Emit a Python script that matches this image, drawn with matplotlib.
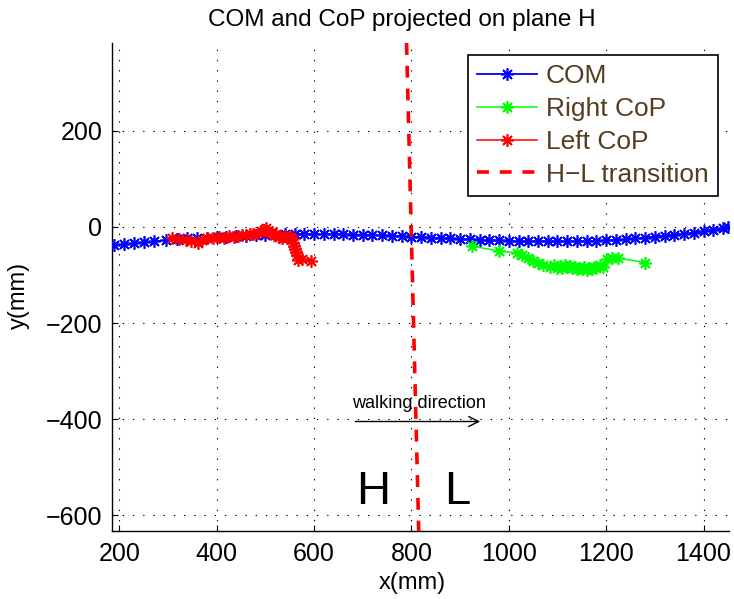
import matplotlib
matplotlib.use("Agg")
import matplotlib.pyplot as plt

plt.rcParams['font.family'] = ['Liberation Sans', 'DejaVu Sans']

com_x = [190, 210, 230, 250, 272, 295, 318, 340, 360, 380, 400, 420, 440, 460, 480, 500, 520, 540, 560, 580,
         600, 620, 640, 660, 680, 700, 720, 740, 760, 780, 800, 820, 840, 860, 880, 900, 920, 940, 960, 980,
         1000, 1020, 1040, 1060, 1080, 1100, 1120, 1140, 1160, 1180, 1200, 1220, 1240, 1260, 1280, 1300,
         1320, 1340, 1360, 1380, 1400, 1420, 1440, 1450]
com_y = [-38, -36, -34, -32, -30, -28, -26, -24, -23, -22, -21, -20, -19, -18, -17, -16, -16, -15, -15, -15,
         -15, -15, -15, -15, -16, -16, -17, -17, -18, -19, -20, -21, -22, -23, -24, -25, -26, -27, -28, -28,
         -29, -30, -30, -30, -30, -30, -30, -30, -30, -29, -28, -27, -26, -24, -22, -20,
         -18, -16, -14, -12, -9, -6, -3, 0]

right_x = [925, 980, 1017, 1028, 1040, 1050, 1060, 1071, 1085, 1092, 1099, 1105, 1110, 1115, 1120, 1125,
           1130, 1135, 1140, 1145, 1150, 1155, 1160, 1165, 1170, 1175, 1180, 1188, 1194, 1202, 1212, 1225, 1280]
right_y = [-40, -50, -54, -58, -65, -70, -74, -79, -83, -80, -86, -82, -85, -80, -84, -82,
           -86, -83, -87, -85, -88, -84, -89, -86, -88, -84, -85, -80, -83, -67, -65, -65, -74]

left_x = [309, 322, 336, 348, 361, 370, 380, 392, 404, 415, 425, 435, 443, 452, 460, 468, 475, 484, 490,
          497, 501, 505, 509, 513, 517, 522, 527, 531, 535, 540, 545, 549, 552, 555, 556, 558, 560, 562,
          564, 566, 575, 593]
left_y = [-23, -25, -27, -29, -33, -27, -24, -22, -20, -22, -19, -20, -18, -17, -16, -15, -14, -12, -9,
          -6, -2, -8, -12, -10, -17, -15, -20, -18, -23, -19, -22, -20, -20, -26, -33, -40, -45, -52,
          -58, -69, -67, -70]

hl_x = [790, 815]
hl_y = [383, -633]

x_ticks = [200, 400, 600, 800, 1000, 1200, 1400]
y_ticks = [-600, -400, -200, 0, 200]

fig = plt.figure(figsize=(7.34, 5.99), dpi=100)
ax = fig.add_axes([0.1526, 0.1135, 0.8404, 0.8147])

star = (8, 2, 0)
ax.plot(com_x, com_y, color='#0000ff', lw=1.3, marker=star, ms=9, mew=1.2, label='COM', zorder=3)
ax.plot(right_x, right_y, color='#00ff00', lw=1.1, marker=star, ms=9, mew=1.2, label='Right CoP', zorder=3)
ax.plot(left_x, left_y, color='#ff0000', lw=1.1, marker=star, ms=9, mew=1.2, label='Left CoP', zorder=4)
ax.plot(hl_x, hl_y, color='#ff0000', lw=2.6, dashes=(3.3, 3.0), label='H\u2212L transition', zorder=5)

ax.set_xlim(185, 1452)
ax.set_ylim(-633, 383)
ax.set_xticks(x_ticks)
ax.set_yticks(y_ticks)
ax.tick_params(direction='in', labelsize=18, length=4, top=False, right=False)
ax.tick_params(axis='x', pad=8)
ax.tick_params(axis='y', pad=7)
ax.grid(True, linestyle=(0, (1.2, 8)), color='k', linewidth=0.8)
for s in ['top', 'right']:
    ax.spines[s].set_visible(False)
for s in ['left', 'bottom']:
    ax.spines[s].set_linewidth(1.0)

ax.set_xlabel('x(mm)', fontsize=17)
ax.set_ylabel('y(mm)', fontsize=17)
ax.xaxis.set_label_coords(0.486, -0.085)
ax.yaxis.set_label_coords(-0.133, 0.482)
ax.set_title('COM and CoP projected on plane H', fontsize=17.5, x=0.47, pad=12)

ax.annotate('', xy=(947, -405), xytext=(679, -405),
            arrowprops=dict(arrowstyle='->', color='k', lw=1.0, mutation_scale=18))
ax.text(679, -368, 'walking direction', fontsize=13, ha='left', va='center')
ax.text(722, -552, 'H', fontsize=34, ha='center', va='center')
ax.text(894, -552, 'L', fontsize=34, ha='center', va='center')

leg = ax.legend(loc='upper right', bbox_to_anchor=(0.982, 0.975), borderaxespad=0, fontsize=19,
                handlelength=2.25, framealpha=1, fancybox=False, edgecolor='k', labelspacing=0.33,
                borderpad=0.35, handletextpad=0.35)
leg.get_frame().set_linewidth(1.2)
for t in leg.get_texts():
    t.set_color('#553d22')

fig.savefig('out.png', dpi=100)
